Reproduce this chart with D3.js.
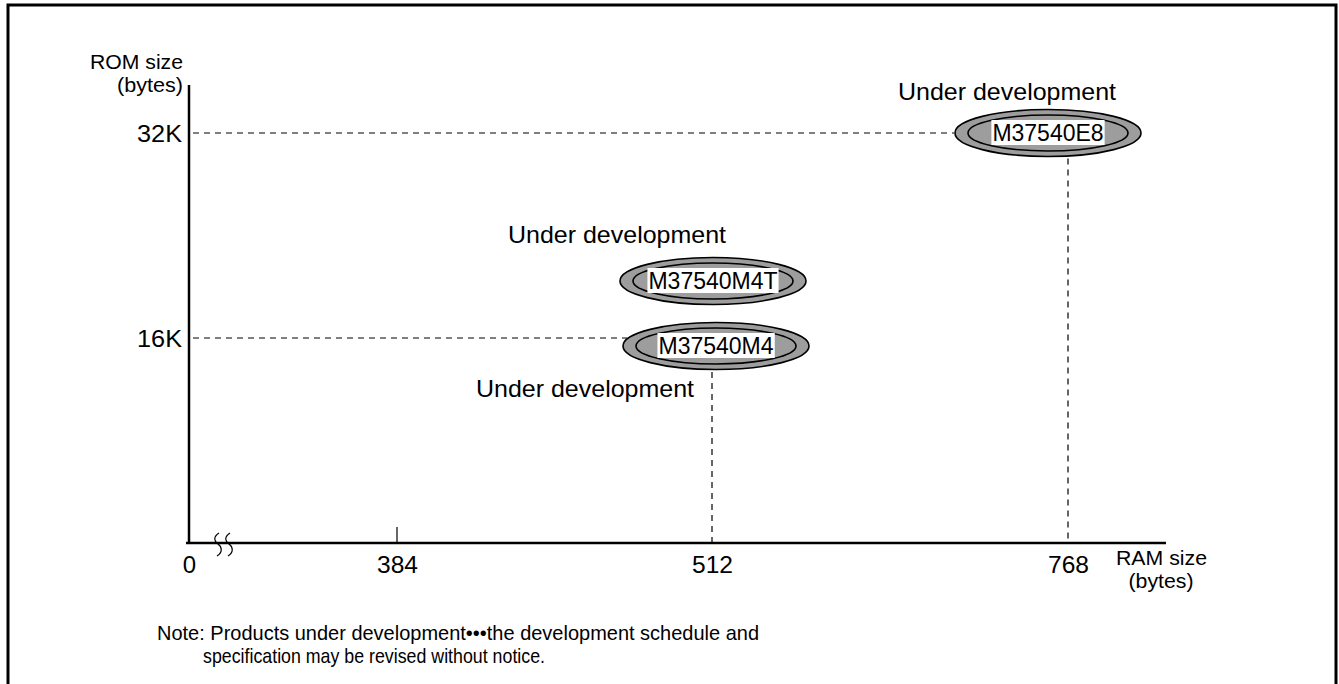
<!DOCTYPE html>
<html>
<head>
<meta charset="utf-8">
<script src="https://cdn.jsdelivr.net/npm/d3@7"></script>
<style>
  body { margin: 0; background: #fff; }
  text { font-family: "Liberation Sans", Arial, sans-serif; fill: #000; }
</style>
</head>
<body>
<div id="chart"></div>
<script>
// chart data
const ramTicks = [0, 384, 512, 768];          // RAM size (bytes)
const romTicks = [16, 32];                    // ROM size (K bytes)
const products = ["M37540E8", "M37540M4T", "M37540M4"];
const productRam = [768, 512, 512];
const productRom = [32, 16, 16];
const productStatus = ["Under development", "Under development", "Under development"];
const noteLines = [
  "Note: Products under development\u2022\u2022\u2022the development schedule and",
  "specification may be revised without notice."
];

// layout
const W = 1339, H = 684;
const axisX0 = 189, axisY0 = 543, axisTop = 85, axisRight = 1166;
// ellipse offsets from the data point (stacked / nudged like the original drawing)
const bubbleShift = [[-20, 0], [1, -57], [4, 8]];
const statusShift = [[-41, -33], [-96, -38], [-131, 51]];
const lineKind = [true, false, true];        // draw guide lines to the axes
const grey = "#9d9d9d";

const svg = d3.select("#chart").append("svg")
  .attr("width", W)
  .attr("height", H);

// frame, open at the bottom
svg.append("path")
  .attr("d", `M8,${H + 5}V5H1336V${H + 5}`)
  .attr("fill", "none")
  .attr("stroke", "#000")
  .attr("stroke-width", 3);

// broken axis: piecewise scale
const x = d3.scaleLinear()
  .domain(ramTicks)
  .range([axisX0, 397, 712, 1068]);

const y = d3.scaleLinear()
  .domain([0, 32])
  .range([axisY0, 133]);

function fit(sel, w) {
  sel.attr("textLength", w).attr("lengthAdjust", "spacingAndGlyphs");
  return sel;
}

// guide lines (dashed)
const g = svg.append("g");
products.forEach(function (p, i) {
  if (!lineKind[i]) return;
  let cx = x(productRam[i]) + bubbleShift[i][0],
      cy = y(productRom[i]) + bubbleShift[i][1],
      px = x(productRam[i]), py = y(productRom[i]);
  let dy = py - cy, dx = px - cx;
  let leftEdge = cx - 94 * Math.sqrt(Math.max(0, 1 - (dy / 24) * (dy / 24)));
  let bottomEdge = cy + 24 * Math.sqrt(Math.max(0, 1 - (dx / 94) * (dx / 94)));
  g.append("line")
    .attr("x1", axisX0 + 4).attr("x2", leftEdge)
    .attr("y1", py).attr("y2", py)
    .attr("stroke", "#000").attr("stroke-width", 1.2)
    .attr("stroke-dasharray", "6,5");
  g.append("line")
    .attr("x1", px).attr("x2", px)
    .attr("y1", bottomEdge + 2).attr("y2", axisY0)
    .attr("stroke", "#000").attr("stroke-width", 1.2)
    .attr("stroke-dasharray", "6,5");
});

// axes
const xAxis = d3.axisBottom(x)
  .tickValues(ramTicks)
  .tickSize(0)
  .tickPadding(14)
  .tickFormat(d3.format("d"));

const xg = svg.append("g")
  .attr("transform", `translate(0,${axisY0})`)
  .call(xAxis);
xg.select(".domain").remove();
xg.selectAll("text")
  .attr("font-size", 24)
  .attr("font-family", "Liberation Sans, Arial, sans-serif")
  .attr("dy", null)
  .attr("y", 30)
  .each(function (d) { if (d >= 100) fit(d3.select(this), 41); });

const yAxis = d3.axisLeft(y)
  .tickValues(romTicks)
  .tickSize(0)
  .tickPadding(7)
  .tickFormat(d => d + "K");

const yg = svg.append("g")
  .attr("transform", `translate(${axisX0},0)`)
  .call(yAxis);
yg.select(".domain").remove();
yg.selectAll("text")
  .attr("font-size", 24)
  .attr("font-family", "Liberation Sans, Arial, sans-serif")
  .attr("dy", "0.36em")
  .each(function () { fit(d3.select(this), 45); });

svg.append("line")
  .attr("x1", axisX0 - 3).attr("x2", axisRight)
  .attr("y1", axisY0).attr("y2", axisY0)
  .attr("stroke", "#000").attr("stroke-width", 2.5);
svg.append("line")
  .attr("x1", axisX0).attr("x2", axisX0)
  .attr("y1", axisTop).attr("y2", axisY0)
  .attr("stroke", "#000").attr("stroke-width", 2.5);

// small tick at 384
svg.append("line")
  .attr("x1", x(384)).attr("x2", x(384))
  .attr("y1", axisY0 - 16).attr("y2", axisY0)
  .attr("stroke", "#000").attr("stroke-width", 1.2);

// axis break marks
[217, 228].forEach(function (bx) {
  svg.append("path")
    .attr("d", `M${bx + 2},533 C${bx - 4},537 ${bx - 3},541 ${bx + 1},544 C${bx + 5},547 ${bx + 6},552 ${bx},556`)
    .attr("fill", "none")
    .attr("stroke", "#000")
    .attr("stroke-width", 1.2);
});

// axis titles
svg.append("text").attr("x", 183).attr("y", 69).attr("text-anchor", "end")
  .attr("font-size", 21).text("ROM size").call(fit, 93);
svg.append("text").attr("x", 183).attr("y", 92).attr("text-anchor", "end")
  .attr("font-size", 21).text("(bytes)").call(fit, 66);
svg.append("text").attr("x", 1116).attr("y", 565)
  .attr("font-size", 20).text("RAM size").call(fit, 91);
svg.append("text").attr("x", 1161).attr("y", 588).attr("text-anchor", "middle")
  .attr("font-size", 20).text("(bytes)").call(fit, 65);

// product ellipses
const pg = svg.append("g");
products.forEach(function (p, i) {
  let cx = x(productRam[i]) + bubbleShift[i][0],
      cy = y(productRom[i]) + bubbleShift[i][1];
  let b = pg.append("g").attr("transform", `translate(${cx},${cy})`);
  b.append("ellipse")
    .attr("rx", 93).attr("ry", 23.5)
    .attr("fill", grey).attr("stroke", "#000").attr("stroke-width", 1.6);
  b.append("ellipse")
    .attr("rx", 80).attr("ry", 18)
    .attr("fill", grey).attr("stroke", "#000").attr("stroke-width", 1.6);
  let t = b.append("text")
    .attr("text-anchor", "middle")
    .attr("y", 8)
    .attr("font-size", 23)
    .text(p);
  let bb = t.node().getBBox();
  b.insert("rect", "text")
    .attr("x", bb.x - 1).attr("y", -13)
    .attr("width", bb.width + 2).attr("height", 25)
    .attr("fill", "#fff");

  pg.append("text")
    .attr("x", cx + statusShift[i][0])
    .attr("y", cy + statusShift[i][1])
    .attr("text-anchor", "middle")
    .attr("font-size", 24)
    .text(productStatus[i])
    .call(fit, 218);
});

// note
svg.append("text").attr("x", 157).attr("y", 640)
  .attr("font-size", 21).text(noteLines[0]).call(fit, 602);
svg.append("text").attr("x", 203).attr("y", 663)
  .attr("font-size", 21).text(noteLines[1]).call(fit, 342);
</script>
</body>
</html>
